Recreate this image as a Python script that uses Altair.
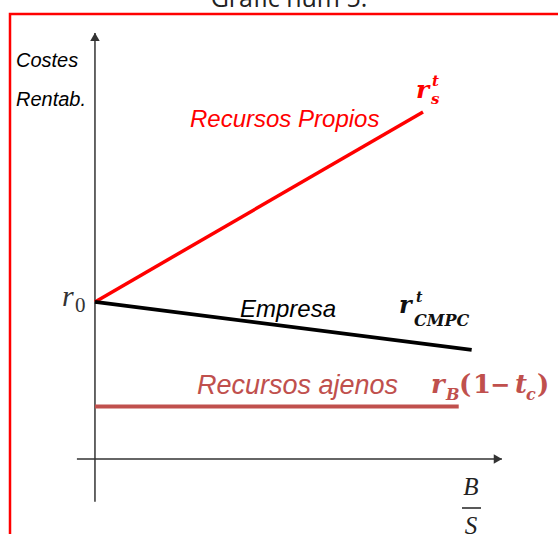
import altair as alt
import pandas as pd

# Cost-of-capital lines in chart units (x = B/S, y = coste / rentabilidad)
series = ["Recursos Propios", "Empresa", "Recursos ajenos"]
x_from = [0.0, 0.0, 0.0]
y_from = [4.0, 4.0, 1.34]
x_to = [8.36, 9.6, 9.27]
y_to = [8.84, 2.78, 1.34]
series_colors = ["#ff0000", "#000000", "#c0504d"]
series_widths = [3.5, 4.0, 4.5]

# Axis extents (with the arrow tips) and the visible window
x_axis = [-0.46, 10.37]
y_axis = [-1.09, 10.85]
x_window = [-2.42, 11.8]
y_window = [-1.91, 11.69]

W, H = 558, 534
xs = alt.Scale(domain=x_window, nice=False, zero=False)
ys = alt.Scale(domain=y_window, nice=False, zero=False)

lines_df = pd.DataFrame({"serie": series, "x0": x_from, "y0": y_from,
                         "x1": x_to, "y1": y_to})

lines = alt.Chart(lines_df).mark_rule().encode(
    x=alt.X("x0:Q", scale=xs, axis=None),
    y=alt.Y("y0:Q", scale=ys, axis=None),
    x2="x1:Q",
    y2="y1:Q",
    color=alt.Color("serie:N", scale=alt.Scale(domain=series, range=series_colors), legend=None),
    strokeWidth=alt.StrokeWidth("serie:N", scale=alt.Scale(domain=series, range=series_widths), legend=None),
)

axes_df = pd.DataFrame({
    "eje": ["x", "y"],
    "x0": [x_axis[0], 0.0], "y0": [0.0, y_axis[0]],
    "x1": [x_axis[1], 0.0], "y1": [0.0, y_axis[1]],
})
axis_color = "#333333"
axes = alt.Chart(axes_df).mark_rule(color=axis_color, strokeWidth=1.5).encode(
    x=alt.X("x0:Q", scale=xs, axis=None),
    y=alt.Y("y0:Q", scale=ys, axis=None),
    x2="x1:Q",
    y2="y1:Q",
)

tips_x = pd.DataFrame({"x": [x_axis[1]], "y": [0.0]})
tips_y = pd.DataFrame({"x": [0.0], "y": [y_axis[1]]})
arrow_x = alt.Chart(tips_x).mark_point(
    shape="triangle-right", size=90, filled=True, color=axis_color, opacity=1, xOffset=-4
).encode(x=alt.X("x:Q", scale=xs, axis=None), y=alt.Y("y:Q", scale=ys, axis=None))
arrow_y = alt.Chart(tips_y).mark_point(
    shape="triangle-up", size=90, filled=True, color=axis_color, opacity=1, yOffset=4
).encode(x=alt.X("x:Q", scale=xs, axis=None), y=alt.Y("y:Q", scale=ys, axis=None))

one = pd.DataFrame({"k": [0]})

SANS = "Liberation Sans"
SERIF = "Liberation Serif"
MATH = "DejaVu Serif"


def label(text, x, y, size, color="#000000", font=SANS, style="normal",
          weight="normal", align="left"):
    return alt.Chart(one).mark_text(
        text=text, font=font, fontSize=size, fontStyle=style, fontWeight=weight,
        color=color, align=align, baseline="alphabetic",
    ).encode(x=alt.value(x), y=alt.value(y))


red = "#ff0000"
brown = "#c0504d"

texts = [
    label("Gràfic núm 5.", 289, 7, 25, "#222222", font="Open Sans", align="center"),
    label("Costes", 16, 67, 20, style="italic"),
    label("Rentab.", 16, 106, 20, style="italic"),
    # r0
    label("r", 62, 306, 30, "#333333", font=SERIF, style="italic"),
    label("0", 75, 312, 21, "#333333", font=SERIF),
    # equity
    label("Recursos Propios", 190, 127, 24, red, style="italic"),
    label("r", 416, 98, 25, red, font=MATH, style="italic", weight="bold"),
    label("t", 432, 86, 15, red, font=MATH, style="italic", weight="bold"),
    label("s", 431, 104, 15, red, font=MATH, style="italic", weight="bold"),
    # firm
    label("Empresa", 240, 317, 24, style="italic"),
    label("r", 399, 313, 24, "#111111", font=MATH, style="italic", weight="bold"),
    label("t", 416, 302, 14, "#111111", font=MATH, style="italic", weight="bold"),
    label("CMPC", 414, 326, 16, "#111111", font=MATH, style="italic", weight="bold"),
    # debt
    label("Recursos ajenos", 197, 394, 27, brown, style="italic"),
    label("r", 431, 393, 26, brown, font=MATH, style="italic", weight="bold"),
    label("B", 446, 400, 16, brown, font=MATH, style="italic", weight="bold"),
    label("(", 459, 393, 26, brown, font=MATH, weight="bold"),
    label("1", 473, 393, 26, brown, font=MATH, weight="bold"),
    label("−", 490, 393, 24, brown, font=MATH, weight="bold"),
    label("t", 515, 393, 26, brown, font=MATH, style="italic", weight="bold"),
    label("c", 526, 400, 16, brown, font=MATH, style="italic", weight="bold"),
    label(")", 537, 393, 26, brown, font=MATH, weight="bold"),
    # B/S
    label("B", 471, 495, 25, "#222222", font=SERIF, style="italic", align="center"),
    label("S", 471, 534, 25, "#222222", font=SERIF, style="italic", align="center"),
]

frac_bar = alt.Chart(one).mark_rule(color="#222222", strokeWidth=1.5).encode(
    x=alt.value(462), x2=alt.value(481), y=alt.value(508)
)

frame = alt.Chart(one).mark_rect(filled=False, stroke=red, strokeWidth=2.5).encode(
    x=alt.value(10), x2=alt.value(W + 40), y=alt.value(14), y2=alt.value(H + 40)
)

chart = alt.layer(frame, axes, arrow_x, arrow_y, lines, frac_bar, *texts).properties(
    width=W, height=H, autosize=alt.AutoSizeParams(type="none"), padding=0
).configure_view(stroke=None)

chart.save("out.html", embed_options={"renderer": "svg", "actions": False})
